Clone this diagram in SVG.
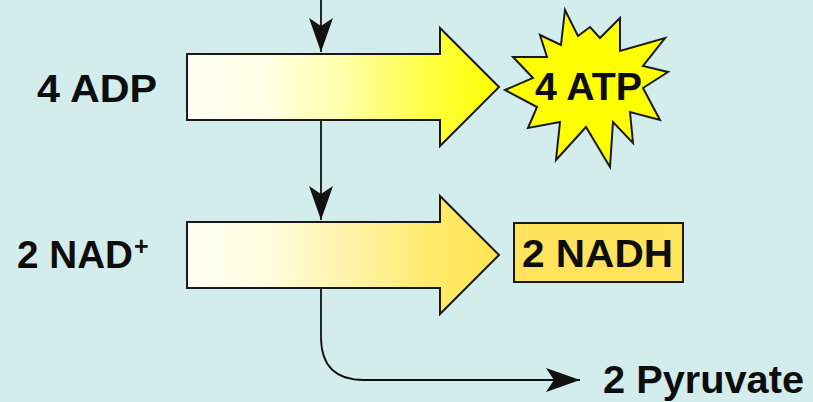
<svg xmlns="http://www.w3.org/2000/svg" width="813" height="402" viewBox="0 0 813 402">
<defs>
<style>
.lbl{font-family:"Liberation Sans",Arial,sans-serif;font-weight:bold;font-size:39px;fill:#0d0d0d;}
.line{fill:none;stroke:#111;stroke-width:1.8;}
.ol{stroke:#1a1a1a;stroke-width:2;stroke-linejoin:miter;}
</style>
<linearGradient id="g1" x1="0" y1="0" x2="1" y2="0">
<stop offset="0" stop-color="#fffff4"/>
<stop offset="0.25" stop-color="#ffffe6"/>
<stop offset="0.5" stop-color="#ffffa8"/>
<stop offset="0.78" stop-color="#ffff40"/>
<stop offset="1" stop-color="#ffff00"/>
</linearGradient>
<linearGradient id="g2" x1="0" y1="0" x2="1" y2="0">
<stop offset="0" stop-color="#fffff2"/>
<stop offset="0.25" stop-color="#fffce0"/>
<stop offset="0.5" stop-color="#fff4ac"/>
<stop offset="0.78" stop-color="#ffea6c"/>
<stop offset="1" stop-color="#ffe450"/>
</linearGradient>
<marker id="ah" viewBox="0 0 34 24" refX="34" refY="12" markerWidth="34" markerHeight="24" markerUnits="userSpaceOnUse" orient="auto">
<path d="M34 12 L0 0 L8 12 L0 24 Z" fill="#111"/>
</marker>
</defs>
<rect x="0" y="0" width="813" height="402" fill="#d3eded"/>
<g id="connectors">
<path class="line" d="M321 0 V52" marker-end="url(#ah)"/>
<path class="line" d="M321 120 V220" marker-end="url(#ah)"/>
<path class="line" d="M321 288 V337 Q321 380 364 380 H580" marker-end="url(#ah)"/>
</g>
<g id="arrow1">
<path class="ol" fill="url(#g1)" d="M187 54 H440 V28 L499 87 L440 146 V120 H187 Z"/>
</g>
<g id="arrow2">
<path class="ol" fill="url(#g2)" d="M187 222 H440 V196 L499 255 L440 314 V288 H187 Z"/>
</g>
<g id="adp">
<text class="lbl" x="37" y="102" textLength="120" lengthAdjust="spacingAndGlyphs">4 ADP</text>
</g>
<g id="nad">
<text class="lbl" x="17" y="268" textLength="116" lengthAdjust="spacingAndGlyphs">2 NAD</text>
<text class="lbl" x="134" y="255" style="font-size:25px">+</text>
</g>
<g id="atp">
<path class="ol" fill="#ffff00" stroke-width="2.5" d="M505 90 L533 78 L513 57 L547 57 L540 35 L561 45 L565 10 L578 36 L590 27 L600 38 L620 18 L620 51 L665 38 L643 66 L668 72 L643 88 L660 120 L630 112 L633 143 L613 122 L610 167 L586 127 L556 160 L560 122 L528 128 L537 107 Z"/>
<text class="lbl" x="535" y="100" textLength="107" lengthAdjust="spacingAndGlyphs">4 ATP</text>
</g>
<g id="nadh">
<rect class="ol" x="514" y="223" width="169" height="59" fill="#ffe35c"/>
<text class="lbl" x="522" y="267" textLength="151" lengthAdjust="spacingAndGlyphs">2 NADH</text>
</g>
<g id="pyruvate">
<text class="lbl" x="603" y="393" textLength="201" lengthAdjust="spacingAndGlyphs">2 Pyruvate</text>
</g>
</svg>
